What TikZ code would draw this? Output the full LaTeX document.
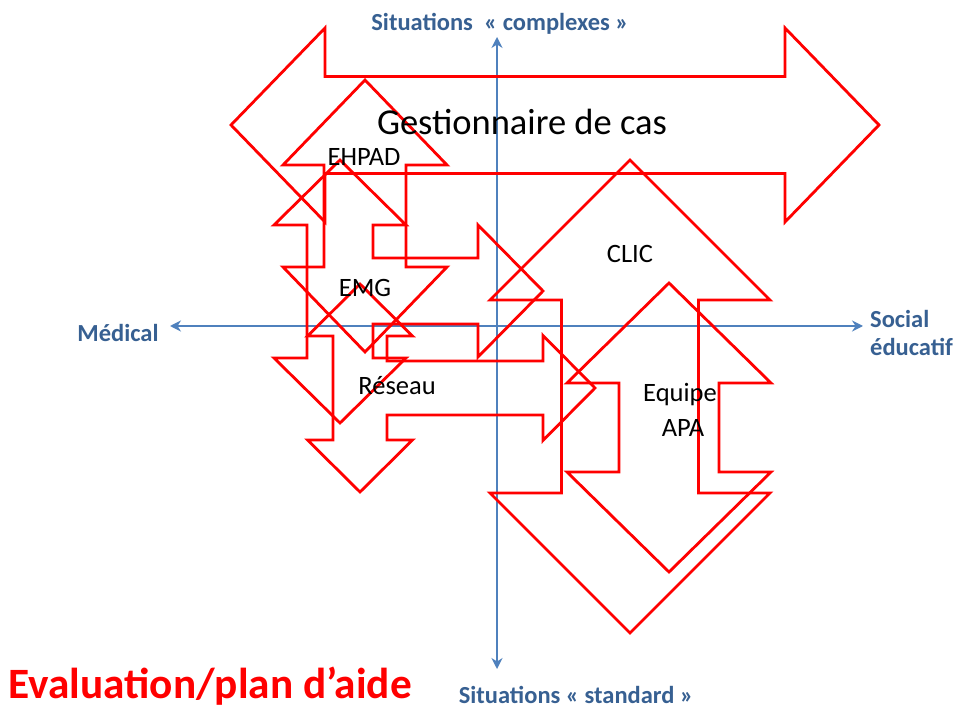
\documentclass[tikz,border=0pt]{standalone}
\usepackage{fontspec}
\setmainfont{Carlito}
\usetikzlibrary{arrows.meta}
\definecolor{axisblue}{HTML}{4F81BD}
\definecolor{labelblue}{HTML}{376092}
\definecolor{shapered}{HTML}{FF0000}
% up-down arrow: cx, ytop, ybottom, head half-width, shaft half-width, head length
\newcommand\myUDarrow[6]{%
  \draw[redshape] (#1,#2) -- ({#1+#4},{#2+#6}) -- ({#1+#5},{#2+#6}) -- ({#1+#5},{#3-#6})
   -- ({#1+#4},{#3-#6}) -- (#1,#3) -- ({#1-#4},{#3-#6}) -- ({#1-#5},{#3-#6})
   -- ({#1-#5},{#2+#6}) -- ({#1-#4},{#2+#6}) -- cycle;}
% left-right arrow: cy, xleft, xright, head half-width, shaft half-width, head length
\newcommand\myLRarrow[6]{%
  \draw[redshape] (#2,#1) -- ({#2+#6},{#1-#4}) -- ({#2+#6},{#1-#5}) -- ({#3-#6},{#1-#5})
   -- ({#3-#6},{#1-#4}) -- (#3,#1) -- ({#3-#6},{#1+#4}) -- ({#3-#6},{#1+#5})
   -- ({#2+#6},{#1+#5}) -- ({#2+#6},{#1+#4}) -- cycle;}
% up-down-right arrow: cx, cy, ytop, ybottom, xright, head half-width, shaft half-width, head length
\newcommand\myUDRarrow[8]{%
  \draw[redshape] (#1,#3) -- ({#1+#6},{#3+#8}) -- ({#1+#7},{#3+#8}) -- ({#1+#7},{#2-#7})
   -- ({#5-#8},{#2-#7}) -- ({#5-#8},{#2-#6}) -- (#5,#2) -- ({#5-#8},{#2+#6})
   -- ({#5-#8},{#2+#7}) -- ({#1+#7},{#2+#7}) -- ({#1+#7},{#4-#8}) -- ({#1+#6},{#4-#8})
   -- (#1,#4) -- ({#1-#6},{#4-#8}) -- ({#1-#7},{#4-#8}) -- ({#1-#7},{#3+#8})
   -- ({#1-#6},{#3+#8}) -- cycle;}
\begin{document}
\begin{tikzpicture}[x=1pt,y=-1pt,
  redshape/.style={draw=shapered,line width=2.8pt,line join=miter},
  axis/.style={draw=axisblue,line width=2.8pt,{Stealth[length=11pt,width=11pt]}-{Stealth[length=11pt,width=11pt]}},
  lab/.style={inner sep=0pt,anchor=base,font=\fontsize{26.5}{31}\selectfont},
  axlab/.style={inner sep=0pt,anchor=base,text=labelblue,font=\fontsize{24.5}{29}\selectfont\bfseries}]
\useasboundingbox[fill=white] (0,0) rectangle (956,708);

% axes
\coordinate (hL) at (170,326);
\coordinate (hR) at (863,326);
\coordinate (vT) at (497,37);
\coordinate (vB) at (497,669);
\draw[axis] (hL) -- (hR);
\draw[axis] (vT) -- (vB);

% red arrow shapes
\myLRarrow{125}{231}{879}{97}{48.5}{94}
\myUDarrow{365}{80}{352}{82}{41}{85}
\myUDRarrow{340}{291}{160}{423}{543}{66}{33}{65}
\myUDRarrow{360}{388}{284}{492}{595}{52.5}{27}{52}
\myUDarrow{630}{160}{633}{140}{68.5}{140}
\myUDarrow{669}{283}{572}{102}{50}{100}

% labels
\node[lab,font=\fontsize{36.5}{44}\selectfont] (gest) at (522,135) {Gestionnaire de cas};
\node[lab] (ehpad) at (364,166) {EHPAD};
\node[lab] (emg) at (365,297) {EMG};
\node[lab] (reseau) at (397,395) {Réseau};
\node[lab] (clic) at (630,263) {CLIC};
\node[lab] (equipe) at (680,402) {Equipe};
\node[lab] (apa) at (683,437) {APA};

\node[axlab] (complexes) at (500,31) {Situations~~« complexes »};
\node[axlab] (medical) at (118,342) {Médical};
\node[axlab,anchor=base west] (social) at (870,328) {Social};
\node[axlab,anchor=base west] (educatif) at (870,356) {éducatif};
\node[axlab] (standard) at (576,703) {Situations « standard »};
\node[inner sep=0pt,anchor=base,text=shapered,font=\fontsize{43.3}{50}\selectfont\bfseries] (eval) at (210,698) {Evaluation/plan d’aide};
\end{tikzpicture}
\end{document}
